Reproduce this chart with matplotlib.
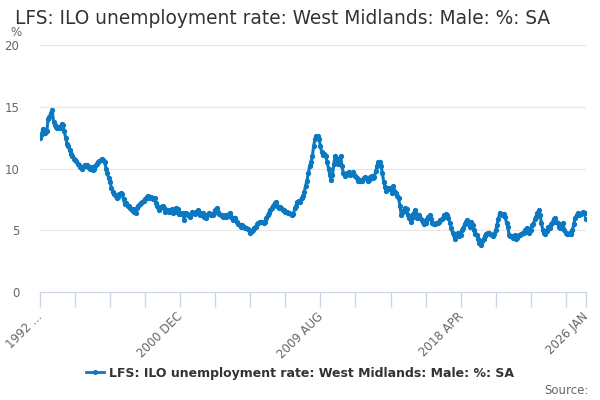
import matplotlib
matplotlib.use("Agg")
import matplotlib.pyplot as plt
from matplotlib.lines import Line2D
import matplotlib.transforms as mtransforms
import pandas as pd

title = "LFS: ILO unemployment rate: West Midlands: Male: %: SA"
start_month = "1992-04-01"

# monthly values, 1992 APR .. 2026 JAN
rate_1992 = [12.5, 12.7, 13.2, 12.9, 12.9, 13.0, 14.0, 14.2, 14.5]
rate_1993 = [14.7, 13.8, 13.5, 13.4, 13.3, 13.4, 13.3, 13.6, 13.5, 13.0, 12.5, 12.0]
rate_1994 = [11.8, 11.5, 11.2, 11.0, 10.8, 10.7, 10.6, 10.4, 10.3, 10.1, 10.0, 10.1]
rate_1995 = [10.3, 10.2, 10.3, 10.1, 10.0, 10.1, 9.9, 10.0, 10.2, 10.4, 10.5, 10.6]
rate_1996 = [10.7, 10.8, 10.7, 10.5, 10.0, 9.6, 9.2, 8.9, 8.4, 8.1, 7.9, 7.8]
rate_1997 = [7.6, 7.7, 7.9, 8.0, 7.9, 7.5, 7.1, 7.2, 7.0, 7.0, 6.8, 6.6]
rate_1998 = [6.7, 6.5, 6.4, 6.8, 7.0, 7.1, 7.2, 7.3, 7.4, 7.5, 7.7, 7.8]
rate_1999 = [7.6, 7.7, 7.6, 7.5, 7.6, 7.2, 7.0, 6.6, 6.8, 6.9, 7.0, 6.8]
rate_2000 = [6.5, 6.6, 6.6, 6.5, 6.6, 6.7, 6.4, 6.5, 6.8, 6.7, 6.3, 6.4]
rate_2001 = [6.3, 6.4, 5.8, 6.4, 6.3, 6.2, 6.1, 6.3, 6.5, 6.4, 6.3, 6.5]
rate_2002 = [6.6, 6.5, 6.2, 6.3, 6.4, 6.1, 6.0, 6.2, 6.4, 6.3, 6.2, 6.2]
rate_2003 = [6.4, 6.6, 6.8, 6.5, 6.3, 6.2, 6.2, 6.1, 6.2, 6.1, 6.2, 6.3]
rate_2004 = [6.4, 6.1, 5.8, 6.0, 6.0, 5.7, 5.5, 5.4, 5.3, 5.4, 5.3, 5.2]
rate_2005 = [5.2, 5.1, 5.0, 4.8, 4.9, 5.0, 5.2, 5.3, 5.5, 5.6, 5.7, 5.7]
rate_2006 = [5.7, 5.6, 5.7, 6.0, 6.2, 6.4, 6.6, 6.8, 7.0, 7.2, 7.3, 7.0]
rate_2007 = [6.8, 6.9, 6.8, 6.6, 6.6, 6.5, 6.5, 6.4, 6.4, 6.3, 6.2, 6.3]
rate_2008 = [6.8, 7.0, 7.3, 7.4, 7.3, 7.6, 7.8, 8.1, 8.6, 9.0, 9.6, 10.2]
rate_2009 = [10.5, 11.0, 11.8, 12.4, 12.6, 12.6, 12.4, 11.8, 11.3, 11.1, 11.2, 11.0]
rate_2010 = [10.5, 10.0, 9.5, 9.1, 9.5, 10.4, 11.0, 10.8, 10.4, 10.8, 11.0, 10.2]
rate_2011 = [9.6, 9.4, 9.5, 9.6, 9.7, 9.5, 9.6, 9.7, 9.5, 9.4, 9.2, 9.0]
rate_2012 = [9.0, 9.1, 9.0, 9.2, 9.3, 9.2, 9.0, 9.1, 9.3, 9.4, 9.2, 9.3]
rate_2013 = [9.8, 10.2, 10.5, 10.5, 10.2, 9.6, 8.9, 8.5, 8.2, 8.4, 8.3, 8.4]
rate_2014 = [8.0, 8.6, 8.2, 8.0, 7.8, 7.6, 7.0, 6.2, 6.5, 6.6, 6.8, 6.7]
rate_2015 = [6.2, 6.0, 5.7, 6.0, 6.3, 6.6, 6.3, 6.0, 6.2, 6.0, 5.8, 5.7]
rate_2016 = [5.5, 5.6, 5.9, 6.1, 6.2, 5.9, 5.6, 5.5, 5.5, 5.6, 5.6, 5.7]
rate_2017 = [5.8, 5.9, 6.0, 6.2, 6.3, 6.2, 6.0, 5.6, 5.2, 4.8, 4.6, 4.3]
rate_2018 = [4.7, 4.8, 4.5, 4.6, 5.0, 5.2, 5.5, 5.7, 5.8, 5.5, 5.3, 5.7]
rate_2019 = [5.4, 5.0, 4.7, 4.6, 4.3, 4.0, 3.8, 4.1, 4.3, 4.5, 4.7, 4.8]
rate_2020 = [4.8, 4.7, 4.6, 4.5, 4.7, 5.0, 5.4, 5.9, 6.4, 6.3, 6.2, 6.3]
rate_2021 = [6.1, 5.6, 5.3, 4.6, 4.5, 4.5, 4.4, 4.6, 4.3, 4.4, 4.6, 4.6]
rate_2022 = [4.7, 4.8, 4.8, 5.0, 5.2, 5.0, 4.8, 5.0, 5.4, 5.5, 5.9, 6.1]
rate_2023 = [6.4, 6.6, 6.2, 5.6, 5.0, 4.8, 4.7, 4.9, 5.3, 5.2, 5.5, 5.6]
rate_2024 = [5.9, 6.0, 5.7, 5.6, 5.3, 5.2, 5.3, 5.6, 5.0, 4.8, 4.7, 4.7]
rate_2025 = [4.8, 4.7, 5.0, 5.5, 6.0, 6.2, 6.4, 6.2, 6.3, 6.4, 6.5, 6.4]
rate_2026 = [5.9]

values = (rate_1992 + rate_1993 + rate_1994 + rate_1995 + rate_1996 + rate_1997
          + rate_1998 + rate_1999 + rate_2000 + rate_2001 + rate_2002 + rate_2003
          + rate_2004 + rate_2005 + rate_2006 + rate_2007 + rate_2008 + rate_2009
          + rate_2010 + rate_2011 + rate_2012 + rate_2013 + rate_2014 + rate_2015
          + rate_2016 + rate_2017 + rate_2018 + rate_2019 + rate_2020 + rate_2021
          + rate_2022 + rate_2023 + rate_2024 + rate_2025 + rate_2026)

tick_labels = ["1992 ...", "2000 DEC", "2009 AUG", "2018 APR", "2026 JAN"]
y_ticks = [0, 5, 10, 15, 20]

dates = pd.date_range(start_month, periods=len(values), freq="MS")

blue = "#0b78c1"
grey = "#666666"
axis_col = "#ccd6eb"

fig = plt.figure(figsize=(6, 4), dpi=100)
ax = fig.add_axes([40 / 600, 1 - 292 / 400, 546 / 600, 247 / 400])

ax.plot(dates, values, color=blue, lw=2.2, marker="o", ms=2.8, mec=blue, mfc=blue, zorder=3)

ax.set_ylim(0, 20)
ax.set_yticks(y_ticks)
ax.set_yticklabels([str(v) for v in y_ticks], color=grey, fontsize=8.5)
ax.grid(axis="y", color="#e6e6e6", lw=0.8)
ax.set_axisbelow(True)
ax.tick_params(axis="y", length=0, pad=15)

ax.set_xlim(dates[0], dates[-1])
minor = list(dates[::26]) + [dates[-1]]
ax.set_xticks(minor, minor=True)
major = [dates[0], dates[104], dates[208], dates[312], dates[-1]]
ax.set_xticks(major)
ax.set_xticklabels(tick_labels, rotation=45, ha="right", rotation_mode="anchor",
                   color=grey, fontsize=8.5)
ax.tick_params(axis="x", which="both", length=11, color=axis_col, width=1, pad=2)
shift = mtransforms.ScaledTranslation(-4 / 100, 0, fig.dpi_scale_trans)
for lab in ax.get_xticklabels():
    lab.set_transform(lab.get_transform() + shift)

for s in ["left", "right", "top"]:
    ax.spines[s].set_visible(False)
ax.spines["bottom"].set_color(axis_col)

fig.text(15 / 600, 1 - 18 / 400, title, fontsize=13.4, color="#333333", va="center")
fig.text(10 / 600, 1 - 32 / 400, "%", fontsize=8.5, color=grey, va="center")

handle = Line2D([], [], color=blue, lw=2, marker="o", ms=2.6)
fig.legend([handle], [title], loc="center", bbox_to_anchor=(300 / 600, 1 - 373 / 400),
           frameon=False, prop={"weight": "bold", "size": 9}, handlelength=1.4,
           handletextpad=0.4, labelcolor="#333333")
fig.text(589 / 600, 1 - 390 / 400, "Source:", fontsize=8.5, color=grey, ha="right", va="center")

fig.savefig("out.png", dpi=100)
